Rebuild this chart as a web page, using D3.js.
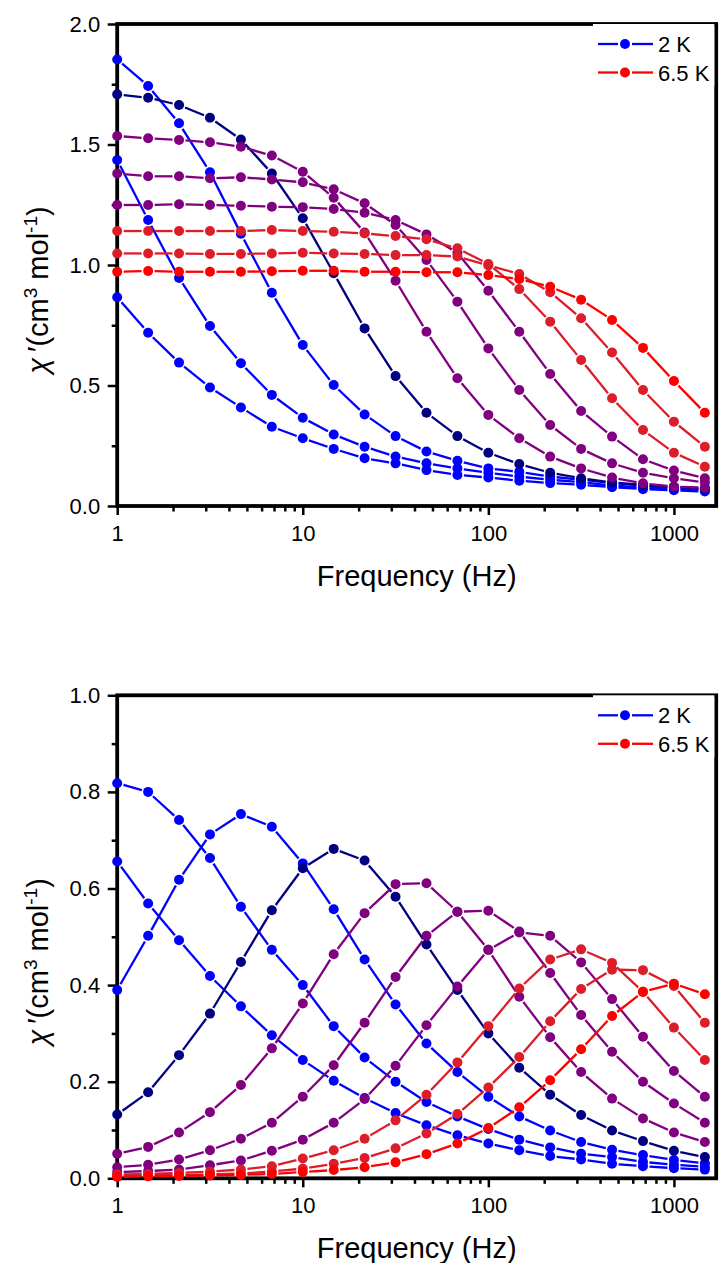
<!DOCTYPE html>
<html>
<head>
<meta charset="utf-8">
<script src="https://cdn.jsdelivr.net/npm/d3@7"></script>
<style>
  html, body { margin: 0; padding: 0; background: #fff; }
  svg { display: block; }
  text { font-family: 'Liberation Sans', Arial, sans-serif; fill: #000; }
</style>
</head>
<body>
<script>
// frequencies (Hz), log spaced, 6 per decade
var freq = [1, 1.468, 2.154, 3.162, 4.642, 6.813, 10, 14.68, 21.54, 31.62,
            46.42, 68.13, 100, 146.8, 215.4, 316.2, 464.2, 681.3, 1000, 1468];

// chi' (in phase), from 2 K (first) to 6.5 K (last)
var inPhase1  = [0.866, 0.719, 0.595, 0.492, 0.409, 0.329, 0.281, 0.237, 0.198, 0.177, 0.149, 0.129, 0.118, 0.105, 0.095, 0.088, 0.078, 0.070, 0.065, 0.060];
var inPhase2  = [1.436, 1.187, 0.946, 0.747, 0.592, 0.461, 0.366, 0.297, 0.246, 0.205, 0.177, 0.156, 0.138, 0.122, 0.109, 0.099, 0.085, 0.077, 0.071, 0.066];
var inPhase3  = [1.853, 1.743, 1.588, 1.385, 1.130, 0.885, 0.668, 0.502, 0.380, 0.290, 0.226, 0.188, 0.156, 0.142, 0.122, 0.109, 0.095, 0.084, 0.078, 0.071];
var inPhase4  = [1.708, 1.694, 1.664, 1.611, 1.521, 1.380, 1.194, 0.966, 0.737, 0.539, 0.387, 0.290, 0.221, 0.174, 0.138, 0.115, 0.098, 0.087, 0.080, 0.072];
var inPhase5  = [1.535, 1.526, 1.519, 1.509, 1.491, 1.454, 1.387, 1.279, 1.135, 0.935, 0.723, 0.530, 0.378, 0.281, 0.205, 0.156, 0.118, 0.094, 0.080, 0.076];
var inPhase6  = [1.380, 1.368, 1.368, 1.360, 1.364, 1.355, 1.343, 1.314, 1.256, 1.166, 1.021, 0.848, 0.654, 0.481, 0.336, 0.237, 0.177, 0.138, 0.115, 0.098];
var inPhase7  = [1.249, 1.249, 1.252, 1.249, 1.246, 1.242, 1.240, 1.232, 1.217, 1.187, 1.127, 1.050, 0.893, 0.723, 0.548, 0.394, 0.288, 0.194, 0.147, 0.115];
var inPhase8  = [1.141, 1.141, 1.141, 1.141, 1.141, 1.145, 1.141, 1.138, 1.131, 1.120, 1.107, 1.069, 1.004, 0.900, 0.765, 0.606, 0.447, 0.315, 0.221, 0.163];
var inPhase9  = [1.048, 1.048, 1.048, 1.046, 1.046, 1.048, 1.051, 1.048, 1.046, 1.041, 1.041, 1.035, 0.998, 0.963, 0.887, 0.779, 0.637, 0.481, 0.350, 0.246];
var inPhase10 = [0.972, 0.975, 0.972, 0.972, 0.972, 0.974, 0.976, 0.976, 0.972, 0.972, 0.970, 0.970, 0.958, 0.942, 0.910, 0.856, 0.772, 0.656, 0.519, 0.387];

// chi'' (out of phase), same order
var outPhase1  = [0.656, 0.569, 0.493, 0.419, 0.356, 0.296, 0.245, 0.202, 0.166, 0.135, 0.110, 0.089, 0.072, 0.058, 0.046, 0.039, 0.030, 0.025, 0.021, 0.018];
var outPhase2  = [0.818, 0.800, 0.742, 0.663, 0.562, 0.473, 0.400, 0.315, 0.250, 0.200, 0.158, 0.128, 0.102, 0.080, 0.064, 0.051, 0.044, 0.034, 0.028, 0.024];
var outPhase3  = [0.390, 0.502, 0.618, 0.712, 0.754, 0.728, 0.652, 0.557, 0.453, 0.360, 0.279, 0.220, 0.169, 0.128, 0.099, 0.075, 0.059, 0.048, 0.038, 0.031];
var outPhase4  = [0.132, 0.178, 0.255, 0.341, 0.448, 0.555, 0.642, 0.682, 0.658, 0.583, 0.484, 0.390, 0.300, 0.229, 0.173, 0.131, 0.099, 0.077, 0.057, 0.044];
var outPhase5  = [0.051, 0.065, 0.095, 0.137, 0.193, 0.269, 0.362, 0.464, 0.549, 0.609, 0.611, 0.552, 0.473, 0.376, 0.292, 0.220, 0.165, 0.124, 0.095, 0.075];
var outPhase6  = [0.023, 0.028, 0.039, 0.058, 0.082, 0.115, 0.169, 0.234, 0.322, 0.417, 0.502, 0.552, 0.554, 0.511, 0.425, 0.338, 0.262, 0.200, 0.155, 0.115];
var outPhase7  = [0.013, 0.015, 0.018, 0.027, 0.037, 0.057, 0.080, 0.115, 0.164, 0.233, 0.317, 0.397, 0.473, 0.509, 0.502, 0.447, 0.371, 0.293, 0.222, 0.169];
var outPhase8  = [0.008, 0.009, 0.011, 0.014, 0.018, 0.025, 0.041, 0.058, 0.082, 0.120, 0.173, 0.240, 0.315, 0.393, 0.453, 0.474, 0.446, 0.386, 0.312, 0.245];
var outPhase9  = [0.005, 0.006, 0.007, 0.008, 0.010, 0.014, 0.020, 0.030, 0.042, 0.062, 0.093, 0.133, 0.188, 0.251, 0.325, 0.392, 0.432, 0.431, 0.398, 0.322];
var outPhase10 = [0.003, 0.004, 0.005, 0.006, 0.007, 0.009, 0.013, 0.017, 0.023, 0.033, 0.050, 0.072, 0.104, 0.147, 0.203, 0.267, 0.336, 0.386, 0.403, 0.381];

var seriesColors = ['#0000ff', '#0000ff', '#0000ff', '#000080', '#800080',
                    '#800080', '#800080', '#dc1e2a', '#dc1e2a', '#ff0000'];

var legendLabels = ['2 K', '6.5 K'];
var legendColors = ['#0000ff', '#ff0000'];

var xTicks = [1, 10, 100, 1000];
var xMinorTicks = [2, 3, 4, 5, 6, 7, 8, 9, 20, 30, 40, 50, 60, 70, 80, 90,
                   200, 300, 400, 500, 600, 700, 800, 900];
var yTicksTop = [0, 0.5, 1.0, 1.5, 2.0];
var yMinorTop = [0.25, 0.75, 1.25, 1.75];
var yTicksBottom = [0, 0.2, 0.4, 0.6, 0.8, 1.0];
var yMinorBottom = [0.1, 0.3, 0.5, 0.7, 0.9];

(function() {
    'use strict';

    var svg = d3.select('body').append('svg')
        .attr('width', 719)
        .attr('height', 1263);

    var left = 117.2
        , right = 716.2
        , markerR = 5;

    var xScale = d3.scaleLog().domain([1, 1690]).range([left, right]);

    function styleAxis(g) {
        g.select('.domain').remove();
        g.selectAll('.tick line')
            .attr('stroke', '#000')
            .attr('stroke-width', 2.5);
        g.selectAll('.tick text')
            .style('font-size', '22px')
            .style('font-family', "'Liberation Sans', Arial, sans-serif")
            .attr('fill', '#000');
    }

    function gapSegments(pts, gap) {
        var segs = [];
        for (var i = 1; i < pts.length; i++) {
            var a = pts[i - 1], b = pts[i];
            var dx = b[0] - a[0], dy = b[1] - a[1];
            var len = Math.sqrt(dx * dx + dy * dy);
            if (len <= 2 * gap) continue;
            var ux = dx / len, uy = dy / len;
            segs.push([a[0] + ux * gap, a[1] + uy * gap, b[0] - ux * gap, b[1] - uy * gap]);
        }
        return segs
    }

    function drawPanel(p) {
        var yScale = d3.scaleLinear().domain([0, p.yMax]).range([p.bottom, p.top]);
        var g = svg.append('g');

        // frame
        g.append('rect')
            .attr('x', left)
            .attr('y', p.top)
            .attr('width', right - left)
            .attr('height', p.bottom - p.top)
            .attr('fill', 'none')
            .attr('stroke', '#000')
            .attr('stroke-width', 3.8);

        // x axis
        g.append('g')
            .attr('transform', 'translate(0,' + p.bottom + ')')
            .call(d3.axisBottom(xScale).tickValues(xMinorTicks).tickSize(5.5).tickFormat(''))
            .call(styleAxis);
        g.append('g')
            .attr('transform', 'translate(0,' + p.bottom + ')')
            .call(d3.axisBottom(xScale).tickValues(xTicks).tickSize(9).tickPadding(10)
                .tickFormat(d3.format('d')))
            .call(styleAxis);

        // y axis
        g.append('g')
            .attr('transform', 'translate(' + left + ',0)')
            .call(d3.axisLeft(yScale).tickValues(p.yMinor).tickSize(5.5).tickFormat(''))
            .call(styleAxis);
        g.append('g')
            .attr('transform', 'translate(' + left + ',0)')
            .call(d3.axisLeft(yScale).tickValues(p.yTicks).tickSize(9.5).tickPadding(7.5)
                .tickFormat(d3.format('.1f')))
            .call(styleAxis);

        // series
        p.series.forEach(function(vals, i) {
            var color = seriesColors[i];
            var pts = freq.map(function(f, k) {
                return [xScale(f), yScale(vals[k])]
            });
            var s = g.append('g');
            s.selectAll('line')
                .data(gapSegments(pts, markerR + 1.5))
                .enter().append('line')
                .attr('x1', function(d) { return d[0] })
                .attr('y1', function(d) { return d[1] })
                .attr('x2', function(d) { return d[2] })
                .attr('y2', function(d) { return d[3] })
                .attr('stroke', color)
                .attr('stroke-width', 2.3);
            s.selectAll('circle')
                .data(pts)
                .enter().append('circle')
                .attr('cx', function(d) { return d[0] })
                .attr('cy', function(d) { return d[1] })
                .attr('r', markerR)
                .attr('fill', color);
        });

        // legend
        var lg = g.append('g');
        lg.append('rect')
            .attr('x', 593)
            .attr('y', p.top)
            .attr('width', right - 1.9 - 593)
            .attr('height', 62)
            .attr('fill', '#fff');
        legendLabels.forEach(function(label, i) {
            var cy = p.top + 20 + i * 28.5;
            lg.append('line')
                .attr('x1', 598).attr('x2', 618).attr('y1', cy).attr('y2', cy)
                .attr('stroke', legendColors[i]).attr('stroke-width', 2.3);
            lg.append('line')
                .attr('x1', 632).attr('x2', 653).attr('y1', cy).attr('y2', cy)
                .attr('stroke', legendColors[i]).attr('stroke-width', 2.3);
            lg.append('circle')
                .attr('cx', 625).attr('cy', cy).attr('r', markerR)
                .attr('fill', legendColors[i]);
            lg.append('text')
                .attr('x', 658)
                .attr('y', cy + 8)
                .style('font-size', '22px')
                .text(label);
        });

        // axis titles
        g.append('text')
            .attr('x', (left + right) / 2)
            .attr('y', p.bottom + 80)
            .attr('text-anchor', 'middle')
            .style('font-size', '29px')
            .text('Frequency (Hz)');

        var mid = (p.top + p.bottom) / 2 + 25;
        var yt = g.append('text')
            .attr('transform', 'translate(48,' + mid + ') rotate(-90)')
            .attr('text-anchor', 'middle')
            .style('font-size', '29px');
        yt.append('tspan').style('font-style', 'italic').text('\u03c7');
        yt.append('tspan').text('\u2009\u2032(cm');
        yt.append('tspan').attr('dy', -11).style('font-size', '19px').text('3');
        yt.append('tspan').attr('dy', 11).text(' mol');
        yt.append('tspan').attr('dy', -11).style('font-size', '19px').text('-1');
        yt.append('tspan').attr('dy', 11).text(')');
    }

    drawPanel({
        top: 24, bottom: 506, yMax: 2.0
        , yTicks: yTicksTop, yMinor: yMinorTop
        , series: [inPhase1, inPhase2, inPhase3, inPhase4, inPhase5,
                   inPhase6, inPhase7, inPhase8, inPhase9, inPhase10]
    });
    drawPanel({
        top: 695.3, bottom: 1178.3, yMax: 1.0
        , yTicks: yTicksBottom, yMinor: yMinorBottom
        , series: [outPhase1, outPhase2, outPhase3, outPhase4, outPhase5,
                   outPhase6, outPhase7, outPhase8, outPhase9, outPhase10]
    });
})();
</script>
</body>
</html>
